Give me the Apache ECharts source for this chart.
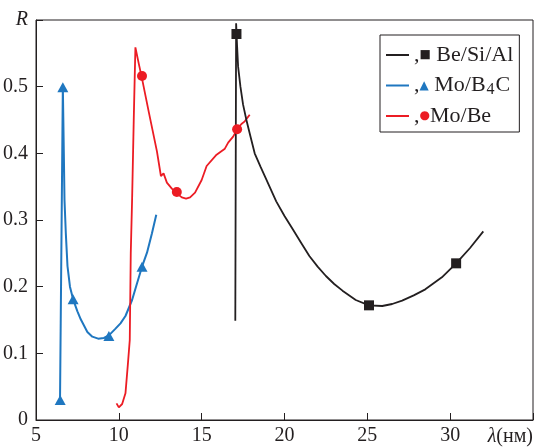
<!DOCTYPE html>
<html><head><meta charset="utf-8">
<script src="https://cdn.jsdelivr.net/npm/echarts@6/dist/echarts.min.js"></script>
<style>html,body{margin:0;padding:0;background:#fff}#c{width:536px;height:447px}</style>
</head><body><div id="c"></div>
<script>
// Axis ranges / ticks
const xMin = 5, xMax = 35, xStep = 5;
const yMin = 0, yMax = 0.6, yStep = 0.1;
const xAxisTitle = 'λ(нм)';
const yAxisTitle = 'R';

// Series names
const names = ['Be/Si/Al', 'Mo/B4C', 'Mo/Be'];

// Be/Si/Al curve
const beSiAlX = [17.03, 17.08, 17.14, 17.2, 17.34, 17.5, 17.7, 17.95, 18.2, 18.55, 18.9, 19.5, 20.0, 20.5, 21.0, 21.5, 22.0, 22.5, 23.0, 23.5, 24.3, 25.1, 25.9, 26.5, 27.1, 27.8, 28.5, 29.5, 30.36, 31.2, 32.0];
const beSiAlY = [0.149, 0.595, 0.56, 0.53, 0.5, 0.473, 0.45, 0.425, 0.4, 0.38, 0.361, 0.328, 0.306, 0.286, 0.266, 0.246, 0.23, 0.216, 0.204, 0.194, 0.18, 0.172, 0.171, 0.174, 0.179, 0.187, 0.196, 0.214, 0.235, 0.258, 0.283];
const beSiAlMarkX = [17.1, 25.1, 30.36];
const beSiAlMarkY = [0.579, 0.172, 0.235];

// Mo/B4C curve
const moB4CX = [6.45, 6.62, 6.68, 6.72, 6.8, 6.9, 7.05, 7.24, 7.5, 7.7, 8.1, 8.4, 8.75, 9.1, 9.4, 9.8, 10.1, 10.4, 10.8, 11.1, 11.4, 11.7, 12.0, 12.26];
const moB4CY = [0.03, 0.5, 0.4, 0.33, 0.28, 0.231, 0.2, 0.181, 0.163, 0.151, 0.132, 0.125, 0.122, 0.123, 0.127, 0.137, 0.145, 0.156, 0.18, 0.205, 0.23, 0.251, 0.28, 0.308];
const moB4CMarkX = [6.46, 6.62, 7.24, 9.4, 11.4];
const moB4CMarkY = [0.03, 0.499, 0.181, 0.126, 0.23];

// Mo/Be curve
const moBeX = [9.86, 10.0, 10.2, 10.4, 10.55, 10.66, 10.72, 10.8, 10.9, 11.0, 11.2, 11.4, 11.8, 12.3, 12.54, 12.7, 12.9, 13.2, 13.5, 13.8, 14.06, 14.3, 14.6, 15.0, 15.3, 15.9, 16.4, 16.6, 16.9, 17.14, 17.4, 17.6, 17.9];
const moBeY = [0.025, 0.019, 0.024, 0.04, 0.085, 0.12, 0.25, 0.33, 0.45, 0.559, 0.535, 0.512, 0.463, 0.403, 0.366, 0.37, 0.356, 0.347, 0.34, 0.334, 0.332, 0.334, 0.341, 0.36, 0.381, 0.398, 0.407, 0.416, 0.425, 0.436, 0.444, 0.448, 0.458];
const moBeMarkX = [11.4, 13.5, 17.14];
const moBeMarkY = [0.516, 0.342, 0.436];

const zip = (a, b) => a.map((v, i) => [v, b[i]]);
const BLACK = '#231f20', BLUE = '#1f77c0', RED = '#ec1c24';
const FONT = '"Liberation Serif", "Times New Roman", serif';

const chart = echarts.init(document.getElementById('c'), null, {renderer: 'canvas'});
chart.setOption({
  animation: false,
  backgroundColor: '#fff',
  textStyle: {fontFamily: FONT},
  grid: {left: 35, right: 2, top: 20, bottom: 26, show: true, borderColor: BLACK, borderWidth: 1},
  xAxis: {
    type: 'value', min: xMin, max: xMax, interval: xStep,
    axisLine: {lineStyle: {color: BLACK, width: 1}},
    axisTick: {inside: true, length: 7, lineStyle: {color: BLACK}},
    splitLine: {show: false},
    axisLabel: {margin: 6, color: BLACK, fontFamily: FONT, fontSize: 20,
      formatter: v => (Math.abs(v - xMax) < 1e-9 ? '' : String(v))},
    name: '{i|λ}(нм)', nameLocation: 'end', nameGap: 0,
    nameTextStyle: {align: 'right', verticalAlign: 'top', padding: [7, 0, 0, 0], color: BLACK, fontFamily: FONT, fontSize: 20,
      rich: {i: {fontStyle: 'italic', fontFamily: FONT, fontSize: 20, color: BLACK}}}
  },
  yAxis: {
    type: 'value', min: yMin, max: yMax, interval: yStep,
    axisLine: {lineStyle: {color: BLACK, width: 1}},
    axisTick: {inside: true, length: 7, lineStyle: {color: BLACK}},
    splitLine: {show: false},
    axisLabel: {margin: 8, color: BLACK, fontFamily: FONT, fontSize: 20,
      formatter: v => (Math.abs(v - yMax) < 1e-9 ? '{i|' + yAxisTitle + '}' : '{n|' + String(+v.toFixed(1)) + '}'),
      rich: {i: {fontStyle: 'italic', fontFamily: FONT, fontSize: 20, color: BLACK},
             n: {fontFamily: FONT, fontSize: 20, color: BLACK}}}
  },
  legend: {
    orient: 'vertical', left: 380, top: 35,
    data: names,
    icon: 'rect', itemWidth: 23, itemHeight: 2, itemGap: 6.5,
    padding: [8, 6, 4, 6],
    borderColor: BLACK, borderWidth: 1,
    selectedMode: false,
    textStyle: {
      fontFamily: FONT, fontSize: 22, color: BLACK, lineHeight: 24,
      rich: {
        c: {fontFamily: FONT, fontSize: 22, color: BLACK, lineHeight: 24},
        sq: {fontFamily: 'DejaVu Sans', fontSize: 12, color: BLACK, lineHeight: 24},
        tr: {fontFamily: 'DejaVu Sans', fontSize: 12, color: BLUE, lineHeight: 24},
        ci: {fontFamily: 'DejaVu Sans', fontSize: 12, color: RED, lineHeight: 24},
        t: {fontFamily: FONT, fontSize: 22, color: BLACK, lineHeight: 24},
        sub: {fontFamily: FONT, fontSize: 16, color: BLACK, lineHeight: 16, padding: [8, 1, 0, 1]}
      }
    },
    formatter: function (n) {
      if (n === 'Be/Si/Al') return '{c|,}{sq|■}{t| Be/Si/Al}';
      if (n === 'Mo/B4C') return '{c|,}{tr|▲}{t| Mo/B}{sub|4}{t|C}';
      return '{c|,}{ci|●}{t|Mo/Be}';
    }
  },
  series: [
    {name: names[0], type: 'line', data: zip(beSiAlX, beSiAlY), symbol: 'none', lineStyle: {color: BLACK, width: 1.8}, itemStyle: {color: BLACK}, z: 3},
    {name: names[1], type: 'line', data: zip(moB4CX, moB4CY), symbol: 'none', lineStyle: {color: BLUE, width: 2}, itemStyle: {color: BLUE}, z: 2},
    {name: names[2], type: 'line', data: zip(moBeX, moBeY), symbol: 'none', lineStyle: {color: RED, width: 1.8}, itemStyle: {color: RED}, z: 2},
    {name: names[0] + ' pts', type: 'scatter', data: zip(beSiAlMarkX, beSiAlMarkY), symbol: 'rect', symbolSize: 10, itemStyle: {color: BLACK, opacity: 1}, z: 5},
    {name: names[1] + ' pts', type: 'scatter', data: zip(moB4CMarkX, moB4CMarkY), symbol: 'triangle', symbolSize: [11, 10], itemStyle: {color: BLUE, opacity: 1}, z: 5},
    {name: names[2] + ' pts', type: 'scatter', data: zip(moBeMarkX, moBeMarkY), symbol: 'circle', symbolSize: 10, itemStyle: {color: RED, opacity: 1}, z: 5}
  ]
});
</script></body></html>
